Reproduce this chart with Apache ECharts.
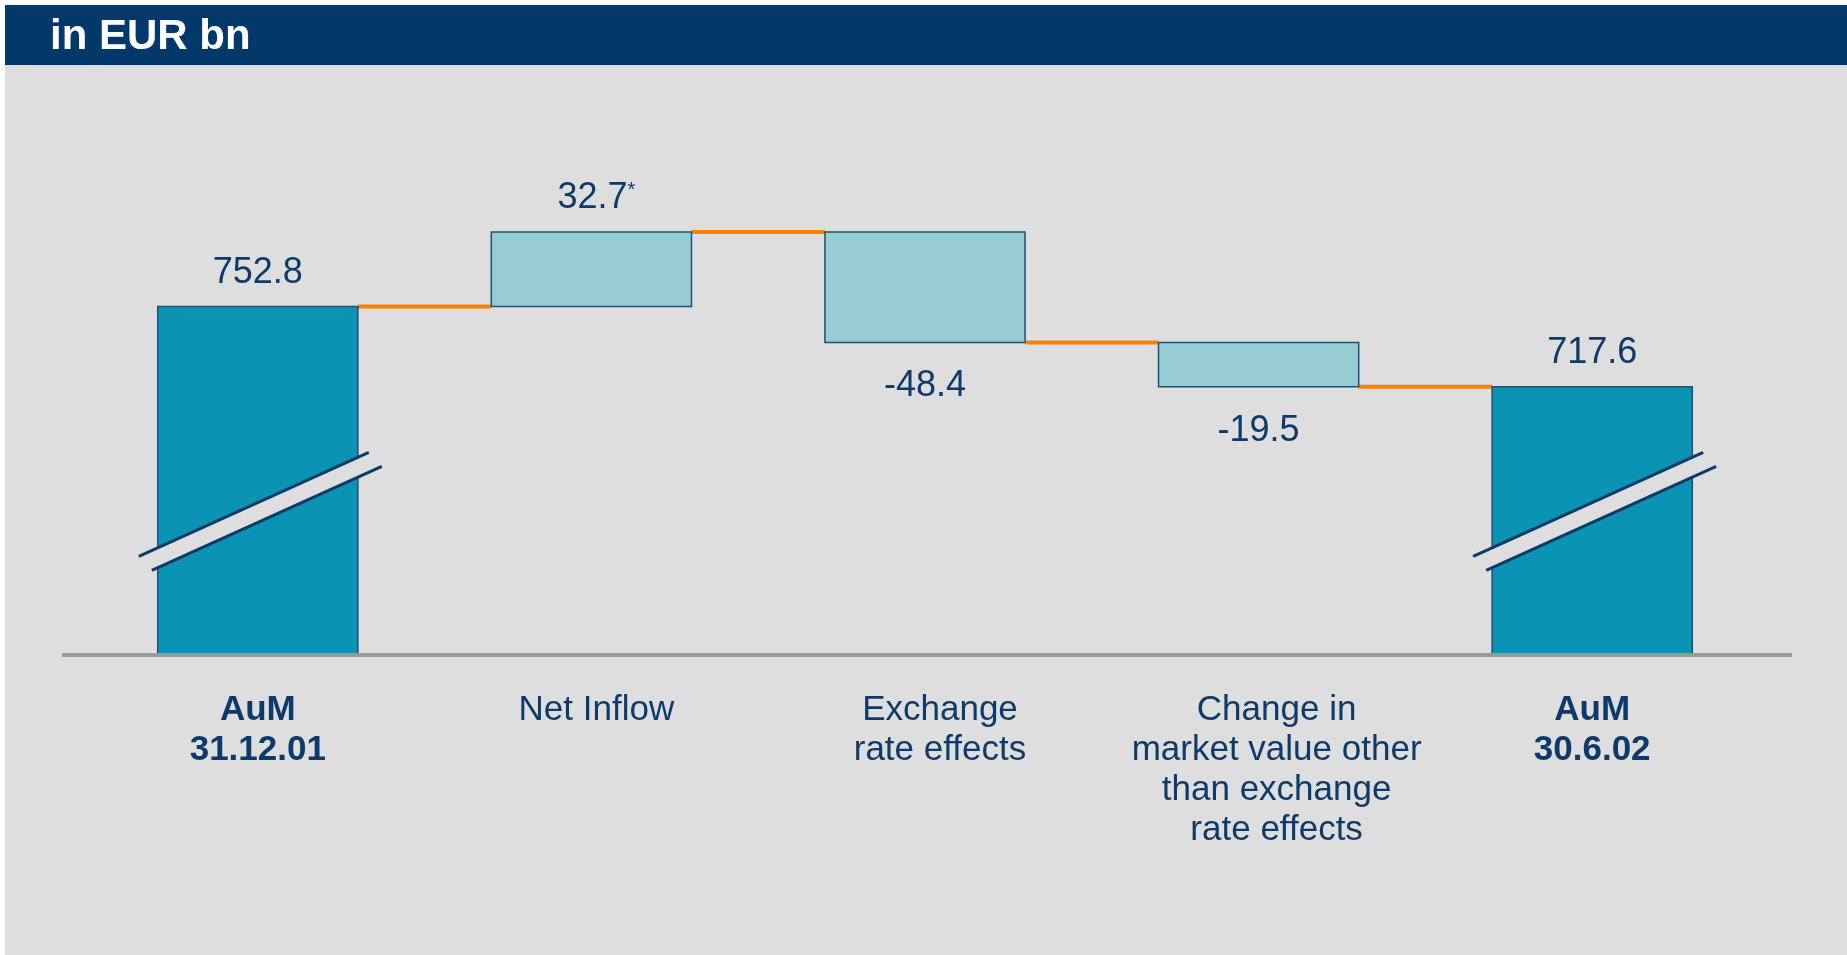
<!DOCTYPE html>
<html>
<head>
<meta charset="utf-8">
<title>AuM bridge</title>
<script src="https://cdn.jsdelivr.net/npm/echarts@6/dist/echarts.min.js"></script>
<style>
  html, body { margin: 0; padding: 0; background: #ffffff; }
  #chart { width: 1847px; height: 955px; }
</style>
</head>
<body>
<div id="chart"></div>
<script>
// Assets under management bridge, EUR bn
const categories = [
  'AuM\n31.12.01',
  'Net Inflow',
  'Exchange\nrate effects',
  'Change in\nmarket value other\nthan exchange\nrate effects',
  'AuM\n30.6.02'
];
const kinds = ['total', 'delta', 'delta', 'delta', 'total'];
const values = [752.8, 32.7, -48.4, -19.5, 717.6];
const valueLabels = ['752.8', '32.7', '-48.4', '-19.5', '717.6'];
const footnoteMarks = ['', '*', '', '', ''];

// truncated value axis (the totals carry a break mark)
const yMin = 600;
const yMax = 800;
const breakLevel = 663;

// small horizontal nudges of the category captions (px of left padding)
const captionIndent = [0, 10, 30, 36, 0];

const NAVY = '#0D3A6B';
const BG = '#DEDEDE';
const FONT = '"Liberation Sans", Arial, sans-serif';

// floating bar extents: [index, low, high, running total after this step]
let running = 0;
const rows = values.map(function (v, i) {
  if (kinds[i] === 'total') {
    running = v;
    return [i, yMin, v, running];
  }
  const start = running;
  running = start + v;
  return [i, Math.min(start, running), Math.max(start, running), running];
});

function renderItem(params, api) {
  const i = api.value(0);
  const low = api.value(1);
  const high = api.value(2);
  const end = api.value(3);
  const top = api.coord([i, high]);
  const bot = api.coord([i, low]);
  const w = api.size([1, 0])[0] * 0.6;
  const cx = top[0];
  const isTotal = kinds[i] === 'total';
  const children = [];

  // connector to the next bar at the running level
  if (i < categories.length - 1) {
    const p = api.coord([i, end]);
    const q = api.coord([i + 1, end]);
    children.push({
      type: 'line',
      shape: { x1: cx + w / 2, y1: p[1], x2: q[0] - w / 2, y2: p[1] },
      style: { stroke: '#FF7F00', lineWidth: 4 }
    });
  }

  children.push({
    type: 'rect',
    shape: { x: cx - w / 2, y: top[1], width: w, height: bot[1] - top[1] },
    style: {
      fill: isTotal ? '#0A93B3' : '#96CDD3',
      stroke: '#1F4E79',
      lineWidth: 1.5
    }
  });

  // axis-break mark across the total bars
  if (isTotal) {
    const b = api.coord([i, breakLevel]);
    const by = b[1];
    const u1 = [cx - 119, by + 45], u2 = [cx + 111, by - 59];
    const l1 = [cx - 106, by + 59], l2 = [cx + 124, by - 45];
    children.push({
      type: 'polygon',
      shape: { points: [u1, u2, l2, l1] },
      style: { fill: BG }
    });
    children.push({
      type: 'line',
      shape: { x1: u1[0], y1: u1[1], x2: u2[0], y2: u2[1] },
      style: { stroke: '#0B3A6B', lineWidth: 3 }
    });
    children.push({
      type: 'line',
      shape: { x1: l1[0], y1: l1[1], x2: l2[0], y2: l2[1] },
      style: { stroke: '#0B3A6B', lineWidth: 3 }
    });
  }

  // value label: above rising/total bars, below falling bars
  const below = values[i] < 0;
  const mark = footnoteMarks[i];
  children.push({
    type: 'text',
    x: cx,
    y: below ? bot[1] + 44 : top[1] - 34,
    style: {
      text: '{v|' + valueLabels[i] + '}' + (mark ? '{s|' + mark + '}' : ''),
      align: 'center',
      verticalAlign: 'middle',
      rich: {
        v: {
          fontSize: 36, fontFamily: FONT, fill: NAVY,
          padding: mark ? [0, 0, 0, 10] : 0
        },
        s: {
          fontSize: 20, fontFamily: FONT, fill: NAVY,
          verticalAlign: 'top', padding: [0, 0, 12, 0]
        }
      }
    }
  });

  return { type: 'group', children: children };
}

function backdrop(baseY) {
  const items = [
    { type: 'rect', z: -10, shape: { x: 5, y: 5, width: 1842, height: 950 }, style: { fill: BG } },
    { type: 'rect', z: -9, shape: { x: 5, y: 5, width: 1842, height: 60 }, style: { fill: '#03386A' } },
    {
      type: 'text', z: -8, x: 50, y: 37,
      style: {
        text: 'in EUR bn', fill: '#ffffff', fontSize: 42, fontWeight: 'bold',
        fontFamily: FONT, verticalAlign: 'middle'
      }
    }
  ];
  if (baseY != null) {
    // category baseline at the bottom of the truncated scale
    items.push({
      type: 'line', z: 100,
      shape: { x1: 62, y1: baseY, x2: 1792, y2: baseY },
      style: { stroke: '#999999', lineWidth: 4 }
    });
  }
  return items;
}

const chart = echarts.init(document.getElementById('chart'));

chart.setOption({
  backgroundColor: '#ffffff',
  animation: false,
  graphic: backdrop(null),
  grid: { left: 91, right: 88, top: 199, bottom: 300 },
  xAxis: {
    type: 'category',
    data: categories,
    axisLine: { show: false },
    axisTick: { show: false },
    splitLine: { show: false },
    axisLabel: {
      margin: 35,
      interval: 0,
      formatter: function (value, index) {
        const key = kinds[index] === 'total' ? 'b' : 'n';
        const pad = captionIndent[index] ? ('{p' + index + '|}') : '';
        return value.split('\n').map(function (l) {
          return pad + '{' + key + '|' + l + '}';
        }).join('\n');
      },
      rich: {
        n: { fontSize: 35, lineHeight: 40, fontFamily: FONT, color: NAVY },
        b: { fontSize: 35, lineHeight: 40, fontFamily: FONT, color: NAVY, fontWeight: 'bold' },
        p1: { width: captionIndent[1], lineHeight: 40 },
        p2: { width: captionIndent[2], lineHeight: 40 },
        p3: { width: captionIndent[3], lineHeight: 40 }
      }
    }
  },
  yAxis: {
    type: 'value',
    min: yMin,
    max: yMax,
    show: false,
    splitLine: { show: false }
  },
  series: [{
    type: 'custom',
    renderItem: renderItem,
    data: rows,
    encode: { x: 0, y: [1, 2] },
    clip: false
  }]
});

const baseY = chart.convertToPixel({ yAxisIndex: 0 }, yMin);
chart.setOption({ graphic: backdrop(baseY) }, { replaceMerge: ['graphic'] });
</script>
</body>
</html>
